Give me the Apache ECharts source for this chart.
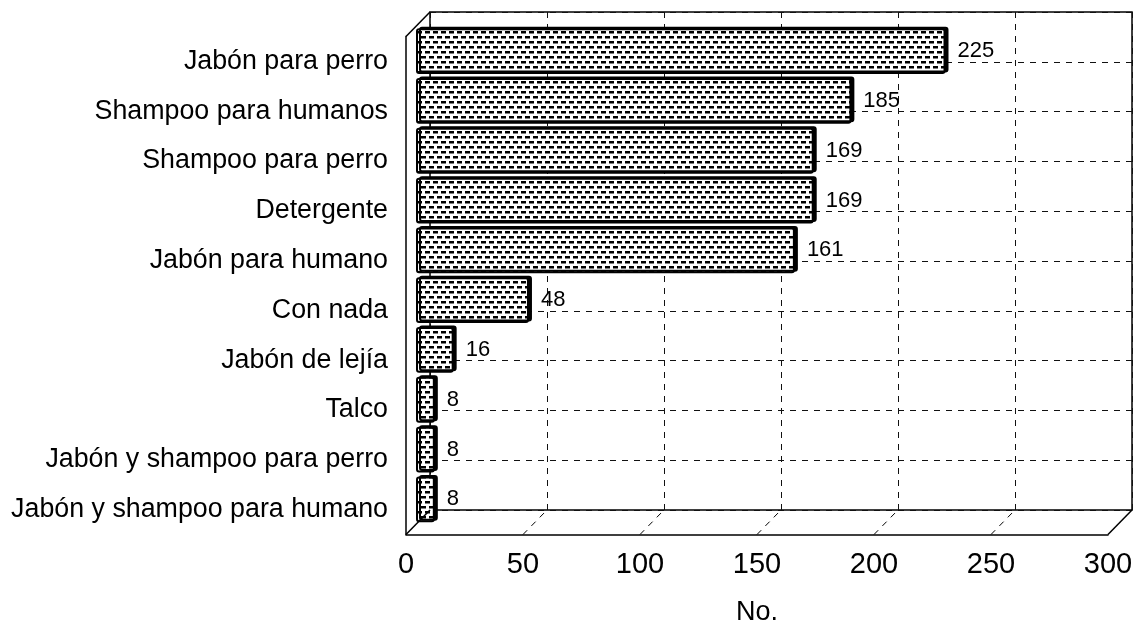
<!DOCTYPE html>
<html>
<head>
<meta charset="utf-8">
<style>html,body{margin:0;padding:0;background:#fff}#c{width:1137px;height:626px}</style>
<script src="https://cdn.jsdelivr.net/npm/echarts@6/dist/echarts.min.js"></script>
</head>
<body>
<div id="c"></div>
<script>
const categories = ["Jabón para perro","Shampoo para humanos","Shampoo para perro","Detergente","Jabón para humano","Con nada","Jabón de lejía","Talco","Jabón y shampoo para perro","Jabón y shampoo para humano"];
const values = [225,185,169,169,161,48,16,8,8,8];
const valueTicks = [0,50,100,150,200,250,300];

const FONT = '"Liberation Sans", Arial, sans-serif';
const W = 702, H = 498, DX = 24, DY = 24.5;
const FRONT = {left:406, top:36.5, width:W, height:H, outerBoundsMode:'none'};
const MID   = {left:416, top:38.5-DY/2, width:706, height:H, outerBoundsMode:'none'};
const BACK  = {left:406+DX, top:36.5-DY, width:W, height:H, outerBoundsMode:'none'};

const pat = document.createElement('canvas');
pat.width = 8; pat.height = 10;
const g = pat.getContext('2d');
g.fillStyle = '#fff'; g.fillRect(0,0,8,10);
g.fillStyle = '#000';
g.fillRect(1,1,5,2.5);
g.fillRect(5,6,3,2.5); g.fillRect(0,6,2,2.5);

const chart = echarts.init(document.getElementById('c'));
const xBase = {type:'value', min:valueTicks[0], max:valueTicks[valueTicks.length-1], interval:50};
const yBase = {type:'category', data:categories, inverse:true};
const off = {show:false};
chart.setOption({
  animation:false,
  backgroundColor:'#fff',
  grid:[
    Object.assign({show:true, borderColor:'#000', borderWidth:1.5, backgroundColor:'transparent'}, BACK),
    Object.assign({}, MID),
    Object.assign({}, FRONT)
  ],
  xAxis:[
    Object.assign({gridIndex:0}, xBase, {axisLine:off, axisTick:off, axisLabel:off,
      splitLine:{show:true, lineStyle:{color:'#111', type:[6,6], width:1}}}),
    Object.assign({gridIndex:1}, xBase, {axisLine:off, axisTick:off, axisLabel:off, splitLine:off}),
    Object.assign({gridIndex:2}, xBase, {
      axisLine:{show:true, onZero:false, lineStyle:{color:'#000', width:1.5}},
      axisTick:off, splitLine:off,
      axisLabel:{color:'#000', fontFamily:FONT, fontSize:29, margin:16,
        showMinLabel:true, showMaxLabel:true, alignMinLabel:'center', alignMaxLabel:'center'},
      name:'No.', nameLocation:'middle', nameGap:65,
      nameTextStyle:{color:'#000', fontFamily:FONT, fontSize:27}
    })
  ],
  yAxis:[
    Object.assign({gridIndex:0}, yBase, {axisLine:off, axisTick:off, axisLabel:off,
      splitLine:{show:true, lineStyle:{color:'#111', type:[6,6], width:1}}}),
    Object.assign({gridIndex:1}, yBase, {axisLine:off, axisTick:off, axisLabel:off, splitLine:off}),
    Object.assign({gridIndex:2}, yBase, {
      axisLine:{show:true, onZero:false, lineStyle:{color:'#000', width:1.5}},
      axisTick:off, splitLine:off,
      axisLabel:{color:'#000', fontFamily:FONT, fontSize:26.8, margin:18, interval:0, padding:[2,0,0,0]}
    })
  ],
  series:[{
    type:'bar', xAxisIndex:1, yAxisIndex:1, data:values,
    barWidth:'92%',
    itemStyle:{color:{image:pat, repeat:'repeat'}, borderColor:'#000', borderWidth:2, borderRadius:2,
      shadowColor:'#000', shadowOffsetX:3, shadowOffsetY:-1.5, shadowBlur:0},
    label:{show:true, position:'right', distance:12, color:'#000', fontFamily:FONT, fontSize:22}
  }]
});

const lineEl = (a, b, dashed) => ({
  type:'line', silent:true, z:5,
  shape:{x1:a[0], y1:a[1], x2:b[0], y2:b[1]},
  style:{stroke:'#000', lineWidth:dashed?1:1.5, lineDash:dashed?[6,6]:null}
});
const last = valueTicks[valueTicks.length-1];
const fr = v => chart.convertToPixel({xAxisIndex:2, yAxisIndex:2}, [v, categories[categories.length-1]])[0];
const bk = v => chart.convertToPixel({xAxisIndex:0, yAxisIndex:0}, [v, categories[categories.length-1]])[0];
const fb = FRONT.top + FRONT.height, bb = BACK.top + BACK.height;
const els = [
  lineEl([FRONT.left, FRONT.top], [BACK.left, BACK.top]),
  lineEl([FRONT.left, fb], [BACK.left, bb]),
  lineEl([fr(last), fb], [bk(last), bb])
];
valueTicks.slice(1, -1).forEach(v => els.push(lineEl([fr(v), fb], [bk(v), bb], true)));
chart.setOption({graphic:{elements:els}});
</script>
</body>
</html>
